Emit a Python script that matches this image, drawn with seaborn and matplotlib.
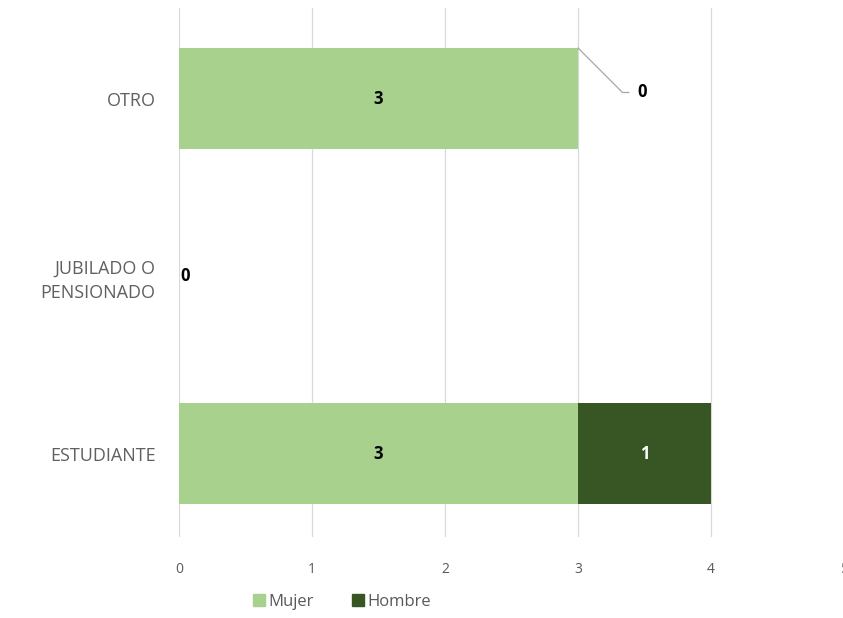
import matplotlib
matplotlib.use("Agg")
import matplotlib.pyplot as plt
import seaborn as sns
import pandas as pd

categories = ["OTRO", "JUBILADO O\nPENSIONADO", "ESTUDIANTE"]
mujer = [3, 0, 3]
hombre = [0, 0, 1]
x_ticks = [0, 1, 2, 3, 4, 5]

c_mujer = "#A9D18E"
c_hombre = "#375623"
grey = "#595959"

sns.set_theme(style="white")
plt.rcParams["font.family"] = ["Open Sans", "DejaVu Sans"]

df = pd.DataFrame({"cat": categories, "Mujer": mujer, "Hombre": hombre})
df["total"] = df["Mujer"] + df["Hombre"]

fig = plt.figure(figsize=(8.43, 6.18), dpi=100)
ax = fig.add_axes([179 / 843, 1 - 537 / 618, 665 / 843, (537 - 8) / 618])

sns.barplot(data=df, y="cat", x="total", order=categories, color=c_hombre,
            width=0.57, ax=ax, saturation=1, orient="h", linewidth=0)
sns.barplot(data=df, y="cat", x="Mujer", order=categories, color=c_mujer,
            width=0.57, ax=ax, saturation=1, orient="h", linewidth=0)

ax.set_xlim(0, 5)
ax.set_ylim(2.47, -0.51)
ax.set_xticks(x_ticks)
ax.set_xticklabels([str(t) for t in x_ticks], color=grey, fontsize=10)
ax.set_ylabel("")
ax.set_xlabel("")
ax.tick_params(axis="x", length=0, pad=18)
ax.tick_params(axis="y", length=0, pad=17)
for lab in ax.get_yticklabels():
    lab.set_color("#606060")
    lab.set_fontsize(13)
    lab.set_linespacing(1.45)
for s in ax.spines.values():
    s.set_visible(False)
ax.grid(axis="x", color="#d9d9d9", linewidth=0.9)
ax.set_axisbelow(True)

# value labels
for i, cat in enumerate(categories):
    m = mujer[i]
    h = hombre[i]
    if m > 0:
        ax.text(m / 2, i, str(m), ha="center", va="center", fontsize=12,
                fontweight="bold", color="black")
    if h > 0:
        ax.text(m + h / 2, i, str(h), ha="center", va="center", fontsize=12,
                fontweight="bold", color="white")

# zero labels
ax.text(0.01, 1, "0", ha="left", va="center", fontsize=12, fontweight="bold", color="black")
ax.annotate("0", xy=(mujer[0], -0.285), xytext=(3.45, -0.034), ha="left", va="center",
            fontsize=12, fontweight="bold", color="black",
            arrowprops=dict(arrowstyle="-", color="#a6a6a6", lw=0.9,
                            shrinkA=4, shrinkB=0,
                            connectionstyle="angle,angleA=180,angleB=135,rad=0"))

handles = [plt.Rectangle((0, 0), 1, 1, color=c_mujer),
           plt.Rectangle((0, 0), 1, 1, color=c_hombre)]
fig.legend(handles, ["Mujer", "Hombre"], loc="center",
           bbox_to_anchor=(342 / 843, 1 - 602 / 618), ncol=2, frameon=False,
           fontsize=12, handlelength=0.7, handleheight=0.7, handletextpad=0.2,
           columnspacing=2.3, labelcolor=grey)

fig.savefig("out.png", dpi=100)
